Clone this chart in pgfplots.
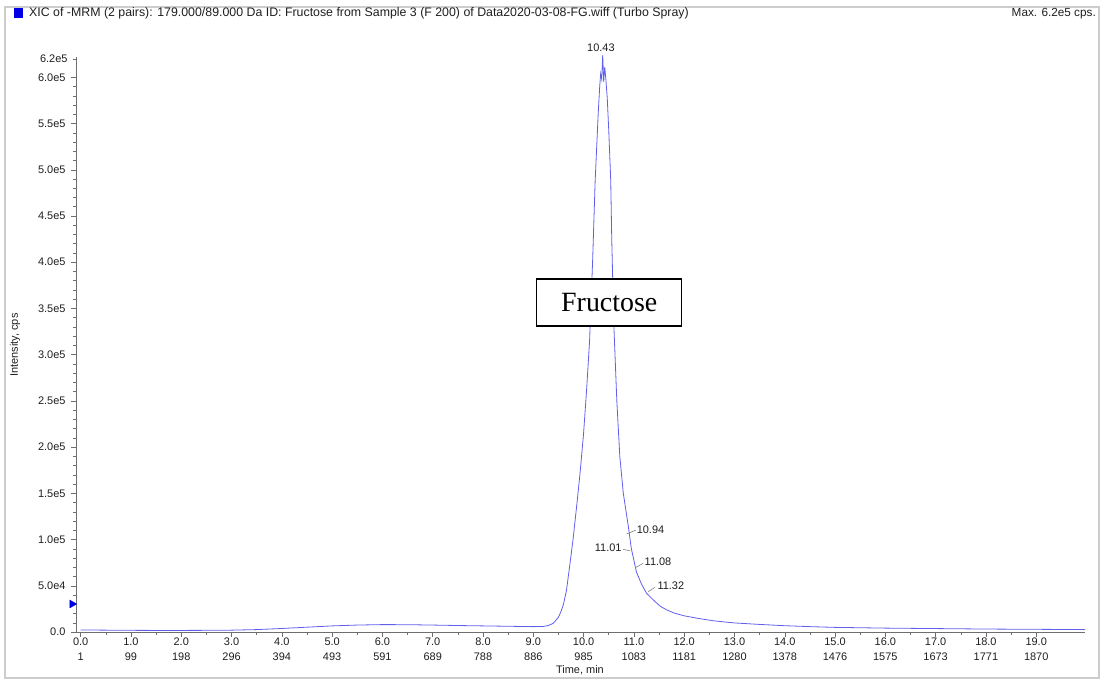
\documentclass[border=0pt]{standalone}
\usepackage{pgfplots}
\pgfplotsset{compat=1.18}
\usepackage{fontspec}
\setmainfont{Liberation Sans}
\newfontfamily\timesfont{Liberation Serif}
\definecolor{trace}{RGB}{95,95,235}
\definecolor{framegray}{RGB}{205,205,205}
\definecolor{axgray}{RGB}{110,110,110}
\definecolor{txt}{RGB}{30,30,30}

\begin{document}
\begin{tikzpicture}[x=1bp,y=1bp]
\path[use as bounding box] (0,0) rectangle (1102,681);
\draw[framegray, line width=1.5bp] (5,3) rectangle (1099,674);
\fill[blue!90!black] (14,663) rectangle (23,673);
\node[anchor=west, font=\fontsize{12.4}{14}\selectfont, text=txt, inner sep=0] at (29,667.5) {XIC of -MRM (2 pairs): 179.000/89.000 Da ID: Fructose from Sample 3 (F 200) of Data2020-03-08-FG.wiff (Turbo Spray)};
\node[anchor=east, font=\fontsize{11.8}{13}\selectfont, text=txt, inner sep=0] at (1096,667.5) {Max. 6.2e5 cps.};
\begin{axis}[
  at={(76bp,49bp)}, anchor=south west, scale only axis,
  width=1009bp, height=575bp,
  xmin=-0.093, xmax=19.97, ymin=0, ymax=622000,
  axis x line*=bottom, axis y line*=left,
  axis line style={axgray, line width=0.6bp},
  tick align=outside, major tick length=5bp, minor tick length=3bp,
  every tick/.style={axgray, line width=0.5bp},
  xtick={0,1,...,19},
  xticklabels={{0.0\\1},{1.0\\99},{2.0\\198},{3.0\\296},{4.0\\394},{5.0\\493},{6.0\\591},{7.0\\689},{8.0\\788},{9.0\\886},{10.0\\985},{11.0\\1083},{12.0\\1181},{13.0\\1280},{14.0\\1378},{15.0\\1476},{16.0\\1575},{17.0\\1673},{18.0\\1771},{19.0\\1870}},
  xticklabel style={align=center, font=\fontsize{11}{15.5}\selectfont, text=txt, yshift=3bp},
  minor x tick num=1,
  ytick={0,50000,100000,150000,200000,250000,300000,350000,400000,450000,500000,550000,600000},
  yticklabels={0.0,5.0e4,1.0e5,1.5e5,2.0e5,2.5e5,3.0e5,3.5e5,4.0e5,4.5e5,5.0e5,5.5e5,6.0e5},
  extra y ticks={620000}, extra y tick labels={6.2e5},
  extra y tick style={major tick length=3bp},
  yticklabel style={font=\fontsize{11}{13}\selectfont, text=txt, xshift=-2bp},
  minor y tick num=4,
  scaled y ticks=false,
  xlabel={Time, min}, ylabel={Intensity, cps},
  xlabel style={at={(axis description cs:0.4995,-0.066)}, anchor=center, font=\fontsize{11}{13}\selectfont, text=txt},
  ylabel style={at={(axis description cs:-0.0605,0.499)}, anchor=center, font=\fontsize{11}{13}\selectfont, text=txt},
  clip=false,
]
\addplot[trace, line width=0.8bp] coordinates {
(0.0,2200) (0.5,2000) (1.0,1800) (1.5,1700) (2.0,1700) (2.5,1800) (3.0,2000) (3.5,2600)
(4.0,3800) (4.5,5200) (5.0,6600) (5.5,7500) (6.0,8000) (6.5,7900) (7.0,7500) (7.5,7000)
(8.0,6600) (8.5,6200) (9.0,5800) (9.2,6000) (9.3,7000) (9.4,9500) (9.5,16000) (9.55,22000)
(9.6,30000) (9.66,45000) (9.72,70000) (9.79,100000) (9.86,135000) (9.93,172000) (10.0,215000)
(10.06,262000) (10.12,316000) (10.18,402000) (10.23,488000) (10.29,560000) (10.32,590000)
(10.34,604000) (10.36,598000) (10.38,624000) (10.40,595000) (10.42,611000) (10.44,600000)
(10.47,578000) (10.50,543000) (10.54,488000) (10.56,424000) (10.60,334000) (10.66,251000)
(10.72,190000) (10.79,150000) (10.89,114000) (10.95,90000) (11.05,65000) (11.15,52000)
(11.25,42000) (11.4,34000) (11.52,28000) (11.65,24000) (11.8,20500) (12.0,17500)
(12.3,14500) (12.6,12000) (13.0,9800) (13.5,8200) (14.0,6800) (14.5,5800) (15.0,5000)
(16.0,4200) (17.0,3700) (18.0,3200) (19.0,2900) (19.97,2600)
};
\addplot[only marks, mark=triangle*, mark size=4.5bp, color=blue!90!black, mark options={rotate=-90}] coordinates {(-0.17,30300)};
\node[font=\fontsize{11}{13}\selectfont, text=txt] at (axis cs:10.344,632400) {10.43};
\draw[axgray, line width=0.5bp] (axis cs:10.855,106000) -- (axis cs:11.04,110300);
\node[font=\fontsize{11}{13}\selectfont, text=txt] at (axis cs:11.33,111000) {10.94};
\draw[axgray, line width=0.5bp] (axis cs:10.787,89400) -- (axis cs:10.92,87900);
\node[font=\fontsize{11}{13}\selectfont, text=txt] at (axis cs:10.49,91100) {11.01};
\draw[axgray, line width=0.5bp] (axis cs:11.04,69900) -- (axis cs:11.185,74300);
\node[font=\fontsize{11}{13}\selectfont, text=txt] at (axis cs:11.48,76000) {11.08};
\draw[axgray, line width=0.5bp] (axis cs:11.285,43600) -- (axis cs:11.418,48300);
\node[font=\fontsize{11}{13}\selectfont, text=txt] at (axis cs:11.735,49700) {11.32};
\node[draw=black, line width=1.5bp, fill=white, minimum width=145bp, minimum height=47bp, inner sep=0, font=\timesfont\fontsize{28}{30}\selectfont] at (axis cs:10.51,356200) {Fructose};
\end{axis}
\end{tikzpicture}
\end{document}
